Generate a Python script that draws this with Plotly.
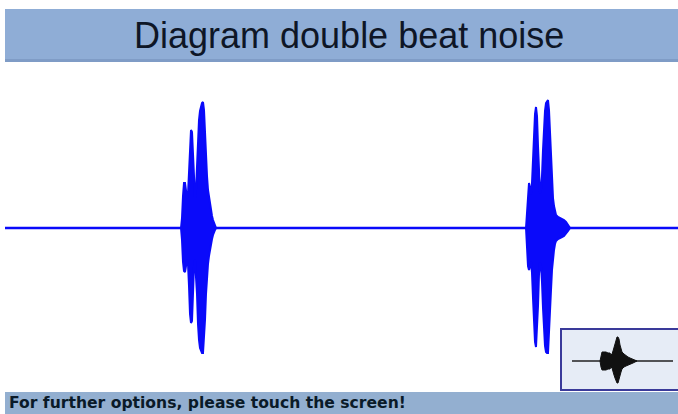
import plotly.graph_objects as go

W, H = 678, 414

# time span of the trace and the two beats (amplitude: upper / lower envelope)
signal_span = [5, 678]

burst1_t = [181, 182, 183, 184, 185, 186, 187, 188, 189, 190, 191, 192, 193, 194, 195, 196, 197, 198,
            199, 200, 201, 202, 203, 204, 205, 206, 207, 208, 209, 210, 211, 212, 213, 214, 215, 216]
burst1_upper = [0, 10, 32, 45, 45, 38, 30, 34, 55, 88, 98, 96, 70, 38, 30, 38, 62, 92,
                108, 117, 122, 125, 126, 118, 96, 70, 52, 38, 30, 24, 18, 12, 8, 5, 2, 0]
burst1_lower = [0, -12, -34, -43, -44, -40, -32, -36, -58, -86, -95, -93, -68, -38, -32, -40, -66, -96,
                -112, -120, -123, -125, -125, -115, -92, -66, -48, -36, -28, -22, -16, -11, -7, -4, -2, 0]

burst2_t = [526, 527, 528, 529, 530, 531, 532, 533, 534, 535, 536, 537, 538, 539, 540, 541, 542, 543, 544,
            545, 546, 547, 548, 549, 550, 551, 552, 553, 554, 555, 556, 558, 560, 562, 564, 566, 568, 570]
burst2_upper = [0, 18, 40, 45, 40, 34, 45, 68, 96, 114, 121, 112, 82, 48, 35, 38, 52, 78, 102,
                117, 125, 127, 128, 118, 95, 66, 44, 30, 22, 16, 13, 11, 10, 9, 8, 6, 3, 0]
burst2_lower = [0, -18, -38, -42, -38, -34, -45, -70, -96, -114, -119, -108, -78, -46, -35, -38, -54, -80, -104,
                -118, -124, -125, -125, -114, -90, -62, -42, -30, -22, -16, -13, -11, -10, -9, -8, -6, -3, 0]

# small icon in the button (bottom right)
icon_span = [572, 673]
icon_t = [600, 601, 602, 603, 604, 606, 608, 610, 611, 612, 613, 614, 615, 616, 617, 618, 619,
          620, 621, 622, 624, 626, 628, 630, 633, 637]
icon_upper = [0, 6, 9, 9, 9, 9, 8, 8, 6, 7, 10, 14, 18, 21, 24, 24, 22, 16, 12, 9, 7, 5, 4, 3, 2, 0]
icon_lower = [0, -6, -9, -9, -9, -9, -8, -8, -6, -7, -10, -14, -17, -20, -22, -22, -20, -15, -11,
              -8, -6, -5, -4, -3, -2, 0]

title_text = 'Diagram double beat noise'
footer_text = 'For further options, please touch the screen!'

BLUE = 'rgb(10,10,250)'

fig = go.Figure()

fig.add_trace(go.Scatter(x=signal_span, y=[0, 0], mode='lines',
                         line=dict(color=BLUE, width=2.5), hoverinfo='skip'))

for t, up, lo in [(burst1_t, burst1_upper, burst1_lower),
                  (burst2_t, burst2_upper, burst2_lower)]:
    fig.add_trace(go.Scatter(x=t + t[::-1], y=up + lo[::-1], mode='lines',
                             fill='toself', fillcolor=BLUE,
                             line=dict(color=BLUE, width=2), hoverinfo='skip'))

fig.add_trace(go.Scatter(x=icon_span, y=[0, 0], mode='lines', xaxis='x2', yaxis='y2',
                         line=dict(color='#202020', width=1.5), hoverinfo='skip'))
fig.add_trace(go.Scatter(x=icon_t + icon_t[::-1], y=icon_upper + icon_lower[::-1], mode='lines',
                         xaxis='x2', yaxis='y2', fill='toself', fillcolor='#111111',
                         line=dict(color='#111111', width=1), hoverinfo='skip'))

# page pixel -> paper fraction
def px(x):
    return x / W

def py(y):
    return 1 - y / H

shapes = [
    # title bar
    dict(type='rect', xref='paper', yref='paper', x0=px(5), x1=1, y0=py(62), y1=py(9),
         fillcolor='#8fadd6', line_width=0, layer='below'),
    dict(type='rect', xref='paper', yref='paper', x0=px(5), x1=1, y0=py(62), y1=py(59),
         fillcolor='#7f9cc6', line_width=0, layer='below'),
    # footer bar
    dict(type='rect', xref='paper', yref='paper', x0=px(5), x1=1, y0=0, y1=py(392),
         fillcolor='#93afd0', line_width=0, layer='below'),
    # button box
    dict(type='rect', xref='paper', yref='paper', x0=px(561), x1=1.01, y0=py(390), y1=py(329),
         fillcolor='#e6ecf6', line=dict(color='#3a3a9a', width=2), layer='below'),
]

fig.update_layout(
    width=W, height=H,
    margin=dict(l=0, r=0, t=0, b=0),
    paper_bgcolor='white', plot_bgcolor='rgba(0,0,0,0)',
    showlegend=False,
    shapes=shapes,
    xaxis=dict(domain=[px(5), 1], range=[5, 678], visible=False, fixedrange=True),
    yaxis=dict(domain=[py(390), py(62)], range=[-162, 166], visible=False, fixedrange=True),
    xaxis2=dict(domain=[px(560), 1], range=[560, 678], anchor='y2', visible=False, fixedrange=True),
    yaxis2=dict(domain=[py(390), py(328)], range=[-29, 33], anchor='x2', visible=False, fixedrange=True),
    annotations=[
        dict(text=title_text, xref='paper', yref='paper', x=px(349), y=py(35),
             xanchor='center', yanchor='middle', showarrow=False,
             font=dict(family='Liberation Sans', size=36, color='#0e1626')),
        dict(text=footer_text, xref='paper', yref='paper', x=px(7), y=py(403),
             xanchor='left', yanchor='middle', showarrow=False,
             font=dict(family='DejaVu Sans', size=15.6, weight='bold', color='#0a1a28')),
    ],
)

# drop the default 8px page margin so the figure fills the window
fig.write_html('out.html', config={'displayModeBar': False},
               post_script="document.body.style.margin='0';"
                           "document.body.style.overflow='hidden';")
